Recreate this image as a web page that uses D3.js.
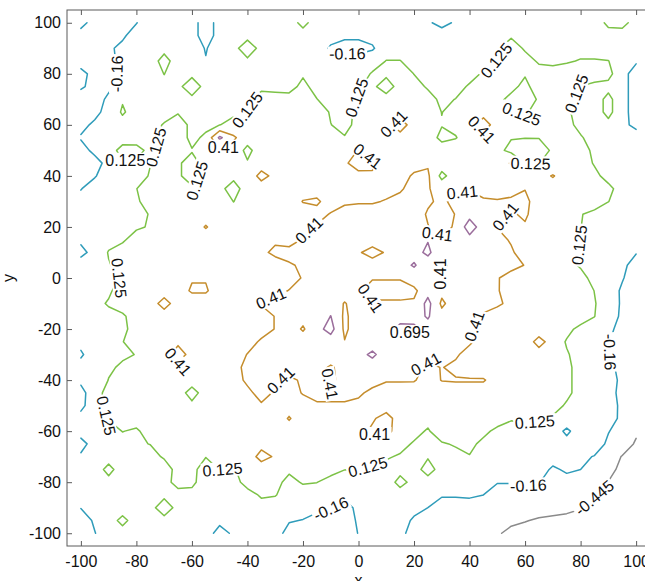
<!DOCTYPE html>
<html>
<head>
<meta charset="utf-8">
<script src="https://cdn.jsdelivr.net/npm/d3@7"></script>
<style>
  body { margin: 0; background: #fff; }
  svg { display: block; }
  text { font-family: "Liberation Sans", Arial, Helvetica, sans-serif; }
</style>
</head>
<body>
<svg id="chart" width="645" height="581"></svg>
<script>
// Sample grid: columns are x, rows are y (first row is y = 100)
const gridX = [-100,-95,-90,-85,-80,-75,-70,-65,-60,-55,-50,-45,-40,-35,-30,-25,-20,-15,-10,-5,0,
               5,10,15,20,25,30,35,40,45,50,55,60,65,70,75,80,85,90,95,100];
const gridY = [100,95,90,85,80,75,70,65,60,55,50,45,40,35,30,25,20,15,10,5,0,
               -5,-10,-15,-20,-25,-30,-35,-40,-45,-50,-55,-60,-65,-70,-75,-80,-85,-90,-95,-100];

// Contour levels and their line colours
const levels = [-0.445, -0.16, 0.125, 0.41, 0.695];
const levelColors = ["#8a8a8a", "#2f9cba", "#7cc246", "#c58d2c", "#9b6e9c"];

// Axis ticks
const xTicks = [-100,-80,-60,-40,-20,0,20,40,60,80,100];
const yTicks = [-100,-80,-60,-40,-20,0,20,40,60,80,100];

// Field values z(x, y), one row per y
const z = [
 [-.05,-.3,-.3,-.25,-.17, 0,0,0,-.05,-.3, -.05,0,0,0,0, 0,.2,0,-.08,-.1, -.1,-.08,0,0,0, -.12,-.25,-.12,0,0, .05,.1,.05,0,0, 0,0,-.05,.2,.22, 0],
 [-.3,-.3,-.28,-.2,-.05, 0,0,0,-.05,-.3, -.05,.02,0,0,0, 0,.02,0,-.05,-.1, -.1,-.05,0,0,0, 0,-.02,0,0,.05, .1,.1,.03,0,0, 0,0,0,0,0, 0],
 [-.3,-.3,-.2,-.1,0, 0,.05,0,0,-.18, 0,0,.35,0,0, 0,0,0,-.2,-.28, -.28,-.2,.05,.05,0, 0,0,0,0,.05, .1,.22,.1,.05,0, 0,.05,.05,0,0, 0],
 [-.28,-.3,-.22,-.1,0, 0,.22,0,0,-.145, 0,0,.05,0,0, 0,.02,0,0,0, 0,.05,.13,.13,.05, 0,0,0,.02,.08, .13,.3,.2,.1,.08, .1,.14,.14,.13,0, -.12],
 [-.08,-.25,-.25,-.1,0, 0,.13,0,.05,0, 0,0,0,0,0, 0,.1,0,0,0, .05,.14,.2,.27,.12, 0,0,0,.05,.15, .27,.27,.15,.2,.2, .25,.27,.27,.2,-.05, -.3],
 [-.12,-.25,-.2,-.08,0, 0,.05,.05,.3,.02, 0,0,0,.08,.05, .05,.18,.05,0,0, .1,.2,-.05,.27,.2, .1,0,.05,.15,.27, .27,.2,.05,.27,.27, .27,.12,.05,.05,-.05, -.3],
 [-.3,-.25,-.12,.1,0, 0,.1,.05,.05,0, 0,.05,.1,.2,.22, .2,.27,.13,.02,0, .15,.27,.27,.27,.27, .2,.08,.13,.27,.27, .2,.05,.02,.15,.27, .2,.05,0,.2,-.05, -.3],
 [-.3,-.22,-.08,.16,0, .05,.1,.1,.05,.02, .05,.08,.13,.27,.27, .27,.27,.27,.1,.02, .2,.27,.27,.27,.27, .27,.12,.2,.27,.3, .2,.14,.1,.2,.27, .17,.02,0,.2,-.05, -.3],
 [-.22,-.12,0,.02,.05, .1,.13,.27,.05,.05, .12,.2,.27,.27,.27, .27,.27,.2,.13,.05, .2,.27,.3,.55,.27, .27,.14,.2,.27,.55, .27,.2,.2,.27,.27, .2,.05,0,.05,-.1, -.22],
 [-.14,-.05,0,0,.05, .1,.15,.27,.05,.18, .75,.45,.25,.27,.27, .27,.27,.27,.2,.14, .25,.27,.27,.3,.27, .27,.05,.11,.27,.27, .2,.14,.13,.13,.2, .27,.15,.02,0,0, -.05],
 [-.25,-.1,0,.22,.18, .08,.2,.27,.14,.27, .38,.3,.05,.27,.27, .27,.27,.27,.27,.3, .42,.3,.27,.27,.27, .27,.27,.27,.27,.27, .2,.05,.02,.05,.15, .27,.27,.05,0,0, -.05],
 [-.3,-.25,-.08,.1,.1, .12,.2,.15,.05,.2, .27,.27,.15,.3,.27, .27,.27,.27,.3,.38, .5,.45,.3,.27,.3, .38,.27,.27,.27,.27, .27,.43,.12,.12,.2, .27,.27,.1,0,0, -.05],
 [-.3,-.18,-.02,0,.05, .14,.27,.15,.05,.15, .27,.2,.27,.48,.35, .27,.27,.27,.27,.27, .35,.38,.27,.3,.45, .45,.05,.27,.27,.27, .27,.27,.27,.3,.43, .27,.27,.2,.02,0, -.05],
 [-.17,-.05,0,.05,.12, .27,.27,.2,.15,.27, .2,0,.27,.3,.27, .27,.3,.27,.27,.27, .27,.3,.32,.38,.5, .43,.3,.35,.38,.3, .3,.33,.4,.27,.27, .27,.27,.27,.2,0, -.03],
 [-.08,0,0,.05,.1, .2,.27,.27,.27,.27, .27,.12,.27,.27,.27, .27,.42,.46,.27,.35, .38,.38,.43,.48,.55, .45,.35,.5,.55,.45, .43,.45,.48,.27,.27, .27,.27,.27,.13,0, -.05],
 [0,0,0,.02,.05, .14,.27,.27,.27,.27, .27,.27,.27,.27,.27, .27,.3,.3,.43,.55, .55,.55,.55,.55,.55, .38,.3,.42,.6,.55, .5,.38,.45,.27,.27, .27,.14,.05,0,0, 0],
 [0,0,0,.05,.1, .14,.27,.27,.27,.43, .27,.27,.27,.27,.27, .27,.35,.44,.55,.55, .55,.6,.55,.55,.5, .42,.3,.45,.84,.55, .4,.3,.38,.27,.27, .27,.13,.02,0,0, 0],
 [-.1,0,.05,.1,.2, .27,.27,.27,.27,.27, .27,.27,.27,.3,.38, .3,.43,.55,.6,.55, .5,.55,.55,.55,.6, .68,.43,.55,.6,.55, .5,.38,.27,.27,.27, .27,.12,.02,0,0, 0],
 [-.25,-.05,.14,.2,.27, .27,.27,.27,.27,.27, .27,.27,.27,.37,.45, .5,.55,.55,.55,.55, .44,.3,.44,.55,.6, .75,.5,.55,.6,.55, .55,.45,.27,.27,.27, .25,.1,0,0,0, -.14],
 [0,.05,.11,.2,.27, .27,.27,.27,.27,.27, .27,.27,.27,.3,.33, .38,.45,.55,.55,.55, .55,.55,.55,.6,.72, .55,.36,.5,.55,.55, .55,.5,.4,.27,.27, .2,.1,0,0,-.08, -.3],
 [0,.02,.08,.14,.27, .27,.27,.27,.39,.39, .27,.27,.27,.27,.27, .3,.43,.55,.55,.55, .5,.43,.43,.43,.55, .6,.4,.48,.55,.5, .43,.3,.27,.27,.27, .27,.2,.05,0,-.14, -.3],
 [0,0,.1,.2,.27, .27,.3,.3,.44,.44, .27,.27,.27,.27,.33, .42,.55,.55,.55,.55, .45,.3,.3,.3,.35, .6,.48,.55,.55,.5, .42,.35,.27,.27,.27, .27,.27,.12,-.02,-.2, -.3],
 [0,.08,.14,.2,.27, .3,.5,.3,.27,.27, .27,.27,.35,.43,.5, .55,.55,.6,.6,.39, .55,.45,.45,.45,.45, .78,.36,.55,.55,.55, .45,.35,.27,.27,.27, .27,.27,.14,0,-.2, -.3],
 [0,.05,.08,.1,.2, .27,.3,.27,.27,.27, .27,.27,.27,.3,.42, .55,.5,.55,.7,.36, .55,.55,.55,.62,.6, .72,.5,.55,.5,.36, .3,.27,.27,.27,.27, .27,.27,.13,-.05,-.2, -.3],
 [0,.05,.05,.08,.2, .27,.27,.27,.27,.27, .27,.27,.27,.3,.42, .55,.38,.6,.8,.36, .55,.55,.6,.75,.75, .6,.55,.55,.45,.3, .27,.27,.27,.27,.27, .2,.05,0,-.1,-.25, -.3],
 [-.08,0,.05,.12,.2, .27,.27,.35,.27,.27, .27,.27,.3,.45,.55, .55,.55,.55,.55,.42, .55,.55,.55,.55,.55, .55,.55,.55,.45,.3, .27,.27,.27,.5,.3, .1,.02,0,-.15,-.25, -.3],
 [-.2,0,.05,.1,.13, .27,.3,.55,.3,.27, .27,.27,.42,.55,.55, .55,.55,.55,.55,.55, .6,.75,.55,.55,.55, .5,.5,.45,.3,.27, .27,.27,.27,.3,.27, .15,.02,0,-.15,-.25, -.3],
 [-.05,0,.1,.15,.27, .27,.27,.3,.27,.27, .27,.3,.5,.55,.55, .55,.55,.5,.38,.5, .55,.55,.55,.55,.5, .35,.42,.35,.3,.27, .27,.27,.27,.27,.27, .17,.05,0,-.08,-.25, -.3],
 [-.12,0,.13,.2,.27, .27,.27,.27,.27,.27, .27,.3,.46,.55,.45, .35,.45,.5,.36,.5, .55,.5,.43,.43,.43, .3,.42,.43,.43,.43, .3,.27,.27,.27,.27, .17,.05,0,-.05,-.22, -.3],
 [-.22,-.05,.27,.27,.27, .27,.27,.27,0,.27, .27,.27,.35,.5,.38, .35,.42,.5,.5,.5, .45,.35,.3,.3,.27, .27,.27,.3,.3,.3, .27,.27,.27,.27,.27, .17,.05,0,-.05,-.25, -.3],
 [-.22,-.02,.25,.27,.27, .27,.27,.27,.2,.27, .27,.27,.3,.38,.3, .3,.35,.37,.37,.37, .35,.3,.3,.27,.27, .27,.27,.27,.27,.27, .27,.27,.27,.27,.2, .1,.02,0,-.08,-.2, -.3],
 [-.08,0,.14,.2,.2, .27,.27,.27,.27,.27, .27,.27,.27,.3,.27, .43,.27,.27,.3,.35, .35,.38,.5,.3,.27, .2,.27,.27,.27,.27, .27,.15,.17,.15,.1, .03,0,0,-.05,-.22, -.3],
 [-.05,0,.05,.13,.1, .2,.27,.27,.27,.27, .27,.27,.27,.27,.27, .3,.27,.27,.27,.3, .33,.45,.5,.27,.2, .1,.27,.27,.27,.2, .05,.02,.05,.05,0, -.22,0,0,-.15,-.25, -.4],
 [-.25,-.05,.02,.05,.1, .13,.27,.27,.27,.27, .27,.27,.27,.33,.3, .27,.27,.27,.27,.27, .27,.27,.3,.2,.1, .05,.1,.15,.2,.05, 0,0,0,0,0, -.05,-.05,-.05,-.2,-.3, -.48],
 [-.12,0,.02,.05,.05, .05,.15,.27,.27,.13, .27,.27,.27,.5,.38, .27,.27,.27,.27,.27, .25,.2,.15,.1,.05, .1,.05,.05,.11,.02, 0,0,0,0,-.05, -.1,-.12,-.17,-.3,-.46, -.55],
 [-.05,0,.2,0,0, 0,.02,.2,.17,.05, .13,.11,.2,.27,.27, .17,.2,.2,.2,.13, .12,.1,.05,.05,0, .25,0,0,0,0, -.02,-.05,-.05,-.05,-.2, -.12,-.16,-.3,-.38,-.5, -.6],
 [-.05,0,.05,0,0, 0,.05,.2,.18,0, 0,.05,.2,.27,.2, .05,.15,.13,.05,0, 0,0,0,.2,.05, 0,-.05,-.05,-.08,-.1, -.15,-.15,-.12,-.15,-.25, -.25,-.3,-.38,-.45,-.55, -.6],
 [-.1,0,0,0,0, 0,.05,.05,.05,0, 0,0,.05,.15,.14, 0,0,0,0,-.1, -.05,0,0,.02,-.05, -.1,-.14,-.14,-.12,-.16, -.25,-.25,-.25,-.25,-.3, -.32,-.35,-.43,-.5,-.55, -.6],
 [-.15,0,0,0,0, .02,.3,.02,0,0, 0,0,0,.05,0, 0,-.05,-.1,-.15,-.25, -.1,0,0,0,-.08, -.16,-.25,-.25,-.28,-.28, -.3,-.3,-.3,-.32,-.35, -.38,-.43,-.5,-.55,-.6, -.6],
 [-.3,-.12,0,.2,0, 0,.02,0,0,0, -.1,-.05,0,0,-.05, -.14,-.17,-.25,-.3,-.3, -.12,0,0,-.05,-.2, -.3,-.3,-.3,-.35,-.35, -.38,-.4,-.43,-.48,-.5, -.52,-.55,-.6,-.6,-.6, -.6],
 [-.3,-.17,0,.02,0, 0,0,0,0,-.05, -.25,-.12,0,0,-.05, -.25,-.3,-.3,-.3,-.3, -.15,0,0,-.1,-.25, -.3,-.35,-.35,-.38,-.4, -.42,-.5,-.55,-.6,-.6, -.6,-.6,-.6,-.6,-.6, -.6]
];

// Where each inline contour label sits (nearest point on its level's line)
const contourLabelAt = [
  [-0.16, -86, 80], [-0.16, -4, 88], [-0.16, 89.5, -29], [-0.16, 62, -86], [-0.16, -9, -92],
  [-0.445, 84, -85],
  [0.125, 50, 85], [0.125, -1.5, 71], [0.125, -36.5, 64], [0.125, -71.5, 51], [0.125, 79, 72],
  [0.125, 59, 65], [0.125, -84, 46], [0.125, -58, 38], [0.125, -86, 0], [0.125, 79, 13],
  [0.125, 62, 46], [0.125, -91, -54], [0.125, -49, -75], [0.125, 3.5, -75], [0.125, 63.5, -56.5],
  [0.41, -48, 50], [0.41, 13, 60], [0.41, 45, 59], [0.41, 3.5, 48], [0.41, 37.5, 33],
  [0.41, 53, 24], [0.41, 29, 18], [0.41, -10.5, 11], [0.41, 29, 1.5], [0.41, 5, -7],
  [0.41, -31, -9.5], [0.41, 42, -19], [0.41, -63, -35.5], [0.41, -29, -39], [0.41, -12, -43.5],
  [0.41, 24.5, -34], [0.41, 6, -60],
  [0.695, 18.5, -20]
];

const svg = d3.select("#chart");
const x = d3.scaleLinear().domain([-105, 105]).range([67, 650]);
const y = d3.scaleLinear().domain([-105, 105]).range([546, 10]);

const nx = gridX.length, ny = gridY.length;
const dxStep = gridX[1] - gridX[0];
const dyStep = gridY[1] - gridY[0];
const values = z.flat();

// Grid-space -> data-space (d3.contours puts sample i at i + 0.5)
const gx = c => gridX[0] + (c - 0.5) * dxStep;
const gy = c => gridY[0] + (c - 0.5) * dyStep;

const contours = d3.contours().size([nx, ny]).thresholds(levels)(values);

// Split each ring into open polylines, dropping the part that runs along the grid border
function ringToLines(ring) {
  const closed = ring.length > 1 &&
    ring[0][0] === ring[ring.length - 1][0] && ring[0][1] === ring[ring.length - 1][1];
  const pts = closed ? ring.slice(0, -1) : ring.slice();
  const onEdge = p => p[0] <= 0 || p[0] >= nx || p[1] <= 0 || p[1] >= ny;
  const s = pts.findIndex(onEdge);
  if (s < 0) return [{ pts: pts.concat([pts[0]]), loop: true }];
  const out = [];
  let cur = [];
  for (let k = 0; k < pts.length; k++) {
    const p = pts[(s + k) % pts.length];
    if (onEdge(p)) {
      if (cur.length > 1) out.push({ pts: cur, loop: false });
      cur = [];
    } else cur.push(p);
  }
  if (cur.length > 1) out.push({ pts: cur, loop: false });
  return out;
}

const linesByLevel = contours.map(c => {
  const lines = [];
  c.coordinates.forEach(poly => poly.forEach(ring => {
    ringToLines(ring).forEach(l => lines.push({
      loop: l.loop,
      px: l.pts.map(p => [x(gx(p[0])), y(gy(p[1]))])
    }));
  }));
  return lines;
});

const plot = svg.append("g");
svg.append("clipPath").attr("id", "plotClip")
  .append("rect").attr("x", 67).attr("y", 10).attr("width", 583).attr("height", 536);
plot.attr("clip-path", "url(#plotClip)");

const lineGen = d3.line();
levels.forEach((lv, i) => {
  plot.append("g")
    .attr("fill", "none")
    .attr("stroke", levelColors[i])
    .attr("stroke-width", 1.5)
    .attr("stroke-linejoin", "round")
    .attr("stroke-linecap", "round")
    .selectAll("path")
    .data(linesByLevel[i])
    .join("path")
    .attr("d", d => lineGen(d.px));
});

// Inline labels, aligned with the local direction of their line
const labelLayer = svg.append("g");
contourLabelAt.forEach(([lv, ax, ay]) => {
  const li = levels.indexOf(lv);
  const P = [x(ax), y(ay)];
  let best = null;
  linesByLevel[li].forEach(line => {
    const p = line.px;
    for (let k = 0; k < p.length - 1; k++) {
      const a = p[k], b = p[k + 1];
      const vx = b[0] - a[0], vy = b[1] - a[1];
      const L2 = vx * vx + vy * vy || 1e-9;
      let t = ((P[0] - a[0]) * vx + (P[1] - a[1]) * vy) / L2;
      t = Math.max(0, Math.min(1, t));
      const q = [a[0] + t * vx, a[1] + t * vy];
      const d = Math.hypot(q[0] - P[0], q[1] - P[1]);
      if (!best || d < best.d) best = { d, q, p, k };
    }
  });
  let pos = P, ang = 0;
  if (best) {
    pos = best.q;
    const p = best.p, n = p.length;
    const a = p[Math.max(0, best.k - 1)], b = p[Math.min(n - 1, best.k + 2)];
    ang = Math.atan2(b[1] - a[1], b[0] - a[0]) * 180 / Math.PI;
    if (ang > 90) ang -= 180;
    if (ang < -90) ang += 180;
  }
  const g = labelLayer.append("g")
    .attr("transform", `translate(${pos[0]},${pos[1]}) rotate(${ang})`);
  const bg = g.append("rect").attr("fill", "#fff");
  const t = g.append("text")
    .attr("text-anchor", "middle")
    .attr("dy", "0.35em")
    .attr("font-size", 16)
    .attr("fill", "#111")
    .text(String(lv));
  const w = t.node().getComputedTextLength();
  bg.attr("x", -w / 2 - 1.5).attr("y", -7.5).attr("width", w + 3).attr("height", 15);
});

// Axes: box with inward ticks on all four sides
const axisColor = "#5a5a5a";
const fmt = d => String(d);
const gB = svg.append("g").attr("transform", "translate(0,546)")
  .call(d3.axisBottom(x).tickValues(xTicks).tickFormat(fmt).tickSizeInner(-5).tickSizeOuter(0).tickPadding(10));
const gT = svg.append("g").attr("transform", "translate(0,10)")
  .call(d3.axisTop(x).tickValues(xTicks).tickFormat("").tickSizeInner(-5).tickSizeOuter(0));
const gL = svg.append("g").attr("transform", "translate(67,0)")
  .call(d3.axisLeft(y).tickValues(yTicks).tickFormat(fmt).tickSizeInner(-5).tickSizeOuter(0).tickPadding(6));
const gR = svg.append("g").attr("transform", "translate(650,0)")
  .call(d3.axisRight(y).tickValues(yTicks).tickFormat("").tickSizeInner(-5).tickSizeOuter(0));
[gB, gT, gL, gR].forEach(g => {
  g.select(".domain").remove();
  g.selectAll(".tick line").attr("stroke", axisColor);
  g.selectAll(".tick text")
    .attr("font-size", 16)
    .attr("font-family", "'Liberation Sans', Arial, sans-serif")
    .attr("fill", "#111");
});
svg.append("rect")
  .attr("x", 67).attr("y", 10).attr("width", 583).attr("height", 536)
  .attr("fill", "none").attr("stroke", axisColor).attr("stroke-width", 1);

svg.append("text").attr("x", 358.5).attr("y", 586)
  .attr("text-anchor", "middle").attr("font-size", 16).attr("fill", "#111").text("x");
svg.append("text")
  .attr("transform", "translate(14,278) rotate(-90)")
  .attr("text-anchor", "middle").attr("font-size", 16).attr("fill", "#111").text("y");
</script>
</body>
</html>
